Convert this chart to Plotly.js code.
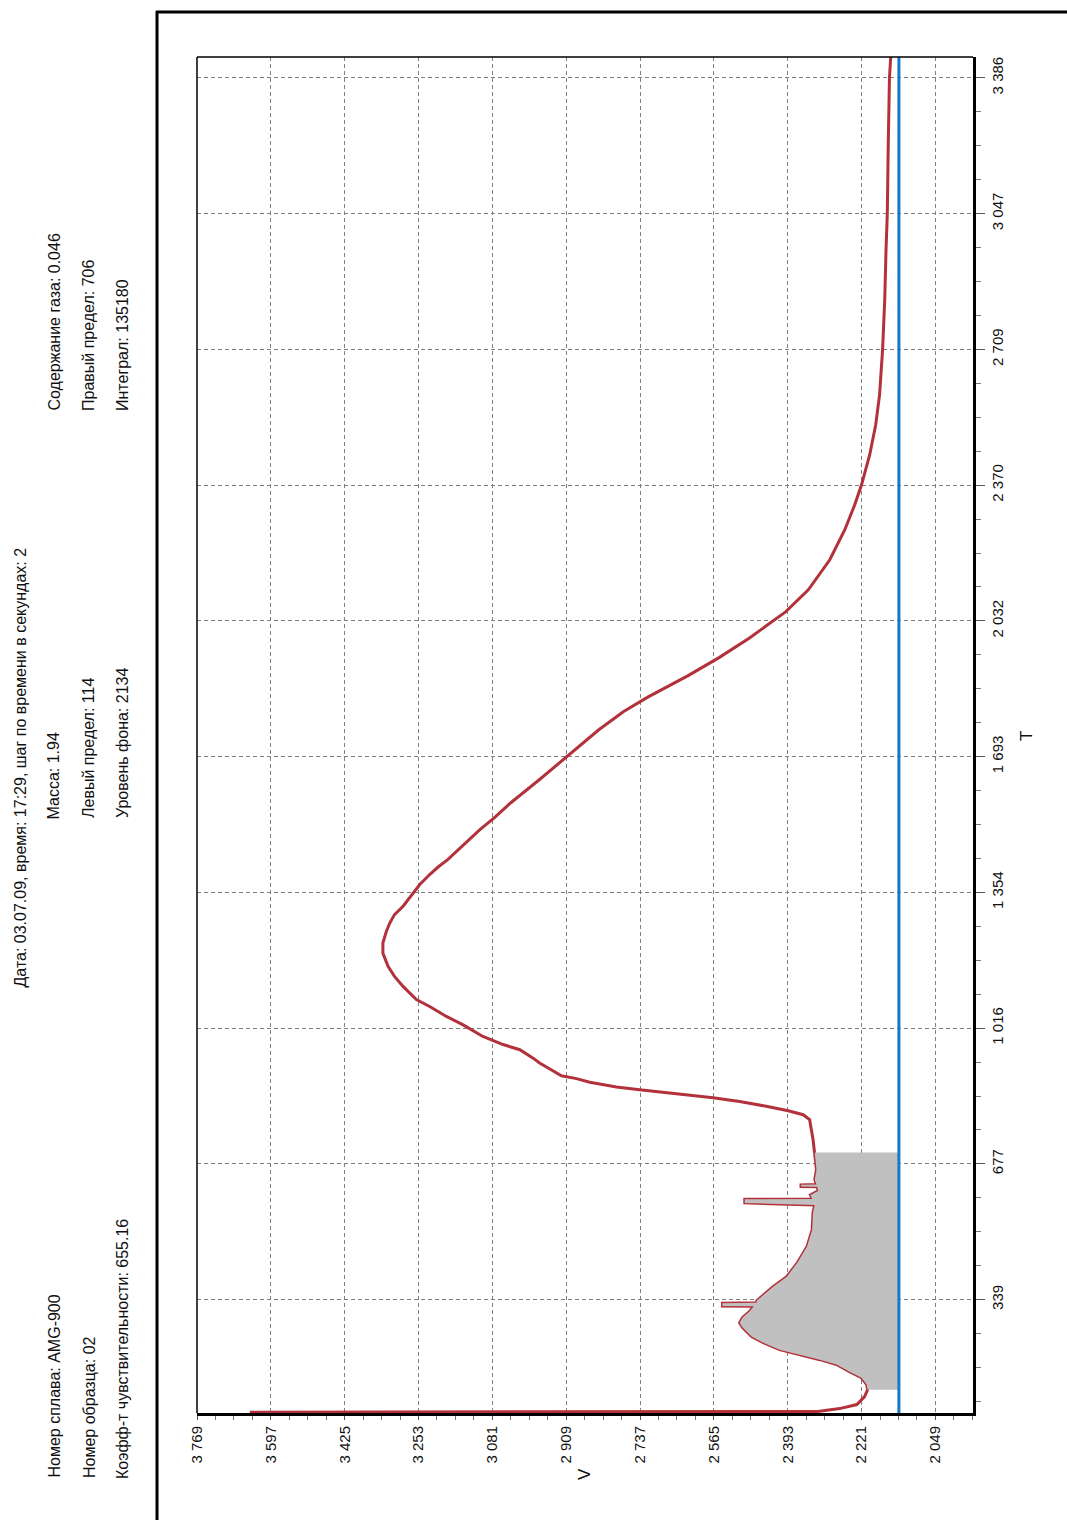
<!DOCTYPE html>
<html>
<head>
<meta charset="utf-8">
<script src="https://cdn.plot.ly/plotly-3.0.1.min.js"></script>
<style>
  html, body { margin: 0; padding: 0; background: #ffffff; }
  #chart { width: 1067px; height: 1520px; }
</style>
</head>
<body>
<div id="chart"></div>
<script>
// ---- Data (T = time axis, V = signal) ----
const T = [58, 60, 67, 77, 97, 114, 127, 144, 159, 177, 189, 204, 214, 232, 247, 269, 281, 294, 309,
  322, 323, 330, 331, 336, 371, 396, 421, 433, 471, 513, 556, 575, 580, 589, 590, 600, 610, 620, 621,
  625, 626, 638, 663, 705, 738, 763, 788, 800, 810, 821, 833, 842, 852, 862, 869, 881, 890, 897, 919,
  929, 941, 962, 975, 995, 1024, 1045, 1070, 1087, 1120, 1145, 1170, 1203, 1228, 1257, 1278, 1299,
  1320, 1353, 1374, 1399, 1419, 1436, 1474, 1511, 1541, 1578, 1636, 1693, 1760, 1805, 1842, 1895,
  1940, 1989, 2054, 2109, 2184, 2259, 2321, 2371, 2446, 2521, 2596, 2708, 2833, 2957, 3047, 3207,
  3386, 3438];
const V = [3646, 2323, 2272, 2232, 2214, 2207, 2209, 2221, 2249, 2279, 2318, 2372, 2412, 2451, 2477,
  2498, 2505, 2498, 2482, 2472, 2545, 2545, 2466, 2465, 2427, 2395, 2376, 2369, 2348, 2336, 2334,
  2330, 2493, 2493, 2336, 2340, 2322, 2324, 2362, 2362, 2326, 2330, 2326, 2330, 2334, 2338, 2342,
  2357, 2392, 2443, 2505, 2567, 2660, 2738, 2792, 2854, 2885, 2920, 2955, 2971, 2986, 3017, 3056,
  3103, 3149, 3188, 3227, 3258, 3289, 3309, 3324, 3336, 3336, 3328, 3320, 3309, 3289, 3266, 3250,
  3227, 3206, 3185, 3147, 3110, 3076, 3038, 2971, 2908, 2833, 2776, 2718, 2625, 2553, 2482, 2398,
  2345, 2295, 2260, 2237, 2221, 2202, 2188, 2179, 2172, 2167, 2164, 2161, 2159, 2156, 2153];

const vTickVals = [3769, 3597, 3425, 3253, 3081, 2909, 2737, 2565, 2393, 2221, 2049];
const vTickText = ["3 769", "3 597", "3 425", "3 253", "3 081", "2 909", "2 737", "2 565", "2 393", "2 221", "2 049"];
const tTickVals = [338.6, 677.2, 1015.8, 1354.4, 1693, 2031.6, 2370.2, 2708.8, 3047.4, 3386];
const tTickText = ["339", "677", "1 016", "1 354", "1 693", "2 032", "2 370", "2 709", "3 047", "3 386"];

const leftLimit = 114;     // Левый предел
const rightLimit = 706;    // Правый предел
const bgLevel = 2134;      // Уровень фона

// ---- Layout geometry ----
const W = 1067, H = 1520;
const mL = 197, mR = 94, mT = 57, mB = 107;
const pw = W - mL - mR, ph = H - mT - mB;
const px = x => (x - mL) / pw;
const py = y => (H - mB - y) / ph;

const FONT = "'Liberation Sans', Arial, sans-serif";

// interpolation helper to close the filled area exactly at the limits
function vAt(t) {
  for (let i = 1; i < T.length; i++) {
    if (T[i] >= t) {
      const f = (t - T[i - 1]) / (T[i] - T[i - 1]);
      return V[i - 1] + f * (V[i] - V[i - 1]);
    }
  }
  return V[V.length - 1];
}
const fillX = [bgLevel, vAt(leftLimit)];
const fillY = [leftLimit, leftLimit];
for (let i = 0; i < T.length; i++) {
  if (T[i] > leftLimit && T[i] < rightLimit) { fillX.push(V[i]); fillY.push(T[i]); }
}
fillX.push(vAt(rightLimit), bgLevel, bgLevel);
fillY.push(rightLimit, rightLimit, leftLimit);

const tMin = 56, tMax = 3438;
const vMax = 3769, vMin = 1961.4;

const traces = [
  { type: 'scatter', mode: 'lines', x: V, y: T,
    line: { color: '#b3313b', width: 3 }, hoverinfo: 'skip' },
  { type: 'scatter', mode: 'lines', x: fillX, y: fillY, fill: 'toself',
    fillcolor: '#c0c0c0', line: { width: 0, color: 'rgba(0,0,0,0)' }, hoverinfo: 'skip' },
  { type: 'scatter', mode: 'lines', x: [bgLevel, bgLevel], y: [tMin, tMax],
    line: { color: '#1479c9', width: 3 }, hoverinfo: 'skip' }
];

function ann(text, x, y, xanchor, yanchor, size) {
  return { text: text, x: px(x), y: py(y), xref: 'paper', yref: 'paper',
    xanchor: xanchor, yanchor: yanchor, textangle: -90, showarrow: false,
    font: { family: FONT, size: size || 16, color: '#111' } };
}

const annotations = [
  ann('Дата: 03.07.09, время: 17:29, шаг по времени в секундах: 2', 20, 767.5, 'center', 'middle'),
  ann('Масса: 1.94', 53, 822, 'center', 'bottom'),
  ann('Левый предел: ' + leftLimit, 88, 820, 'center', 'bottom'),
  ann('Уровень фона: ' + bgLevel, 122, 820, 'center', 'bottom'),
  ann('Номер сплава: AMG-900', 54, 1480, 'center', 'bottom'),
  ann('Номер образца: 02', 89, 1480, 'center', 'bottom'),
  ann('Коэфф-т чувствительности: 655.16', 122, 1481, 'center', 'bottom'),
  ann('Содержание газа: 0.046', 54, 413, 'center', 'bottom'),
  ann('Правый предел: ' + rightLimit, 88, 413, 'center', 'bottom'),
  ann('Интеграл: 135180', 122, 413, 'center', 'bottom'),
  ann('V', 584, 1474, 'center', 'middle', 17),
  ann('T', 1026, 736, 'center', 'middle', 17)
];

const shapes = [
  // outer page frame
  { type: 'line', xref: 'paper', yref: 'paper', x0: px(157), x1: px(157), y0: py(11), y1: py(1530),
    line: { color: '#000', width: 3 } },
  { type: 'line', xref: 'paper', yref: 'paper', x0: px(156), x1: px(1075), y0: py(12), y1: py(12),
    line: { color: '#000', width: 3 } },
  // thin top and left plot border
  { type: 'line', xref: 'paper', yref: 'paper', x0: 0, x1: 1, y0: 1, y1: 1, line: { color: '#000', width: 1.5 } },
  { type: 'line', xref: 'paper', yref: 'paper', x0: 0, x1: 0, y0: 0, y1: 1, line: { color: '#000', width: 1.5 } }
];

const layout = {
  width: W, height: H,
  margin: { l: mL, r: mR, t: mT, b: mB, pad: 0 },
  paper_bgcolor: '#ffffff', plot_bgcolor: '#ffffff',
  showlegend: false,
  xaxis: {
    range: [vMax, vMin], autorange: false,
    tickmode: 'array', tickvals: vTickVals, ticktext: vTickText, tickangle: -90,
    ticks: 'outside', ticklen: 4, tickcolor: '#555', tickwidth: 1,
    tickfont: { family: FONT, size: 15, color: '#111' },
    showgrid: true, gridcolor: '#808080', gridwidth: 1, griddash: '4px,3px',
    showline: true, linecolor: '#000', linewidth: 3, zeroline: false,
    minor: { tick0: 3769, dtick: 43, ticks: 'outside', ticklen: 4, tickcolor: '#777', showgrid: false }
  },
  yaxis: {
    side: 'right', range: [tMin, tMax], autorange: false,
    tickmode: 'array', tickvals: tTickVals, ticktext: tTickText, tickangle: -90,
    ticks: 'outside', ticklen: 9, tickcolor: '#555', tickwidth: 1,
    tickfont: { family: FONT, size: 15, color: '#111' },
    showgrid: true, gridcolor: '#808080', gridwidth: 1, griddash: '4px,3px',
    showline: true, linecolor: '#000', linewidth: 3, zeroline: false,
    minor: { tick0: 0, dtick: 84.65, ticks: 'outside', ticklen: 5, tickcolor: '#777', showgrid: false }
  },
  annotations: annotations,
  shapes: shapes
};

Plotly.newPlot('chart', traces, layout, { staticPlot: true, displayModeBar: false });
</script>
</body>
</html>
